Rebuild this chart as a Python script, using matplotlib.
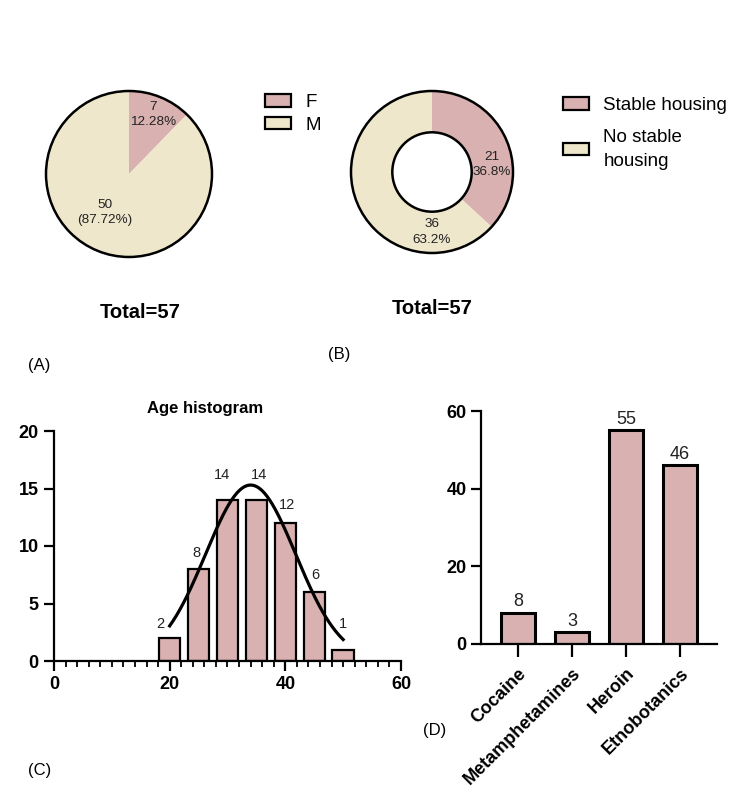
import numpy as np
import matplotlib.pyplot as plt
from matplotlib.patches import Patch, Circle
from matplotlib.ticker import MultipleLocator

plt.rcParams['font.family'] = ['Liberation Sans', 'DejaVu Sans']

pink = '#D9B1B1'
beige = '#EEE7CB'

# (A) sex
sex_labels = ['F', 'M']
sex_counts = [7, 50]
sex_text = ['7\n12.28%', '50\n(87.72%)']

# (B) housing
housing_labels = ['Stable housing', 'No stable\nhousing']
housing_counts = [21, 36]
housing_text = ['21\n36.8%', '36\n63.2%']

# (C) age histogram
age_bins = [20, 25, 30, 35, 40, 45, 50]
age_counts = [2, 8, 14, 14, 12, 6, 1]
# gaussian fit: amplitude, mean, sd
fit_amp, fit_mean, fit_sd = 15.3, 34.0, 7.8

# (D) substances
drugs = ['Cocaine', 'Metamphetamines', 'Heroin', 'Etnobotanics']
drug_counts = [8, 3, 55, 46]

W, H = 750, 800
fig = plt.figure(figsize=(7.5, 8), dpi=100)


def box(cx, cy, half):
    # axes rectangle from pixel centre / half size
    return [(cx - half) / W, (H - cy - half) / H, 2 * half / W, 2 * half / H]


# ---- (A) pie
axA = fig.add_axes(box(129, 174, 83 * 1.2))
axA.pie(sex_counts, colors=[pink, beige], startangle=90, counterclock=False,
        wedgeprops=dict(linewidth=0))
axA.add_patch(Circle((0, 0), 1, fill=False, ec='black', lw=1.8))
for (x, y), t in zip([(0.29, 0.72), (-0.29, -0.46)], sex_text):
    axA.text(x, y, t, ha='center', va='center', fontsize=9.7, color='#222222', linespacing=1.35)
axA.set_xlim(-1.2, 1.2)
axA.set_ylim(-1.2, 1.2)
axA.axis('off')
legA = fig.legend([Patch(fc=c, ec='black', lw=1.6) for c in [pink, beige]], sex_labels,
                  loc='upper left', bbox_to_anchor=(265 / W, 1 - 94 / H), frameon=False,
                  fontsize=13.5, borderpad=0, borderaxespad=0, handlelength=1.4,
                  handleheight=0.65, handletextpad=0.75, labelspacing=0.3)

# ---- (B) donut
axB = fig.add_axes(box(432, 172, 81 * 1.2))
axB.pie(housing_counts, colors=[pink, beige], startangle=90, counterclock=False,
        wedgeprops=dict(linewidth=0, width=0.51))
axB.add_patch(Circle((0, 0), 1, fill=False, ec='black', lw=1.8))
axB.add_patch(Circle((0, 0), 0.49, fill=False, ec='black', lw=1.8))
for (x, y), t in zip([(0.74, 0.09), (0.0, -0.74)], housing_text):
    axB.text(x, y, t, ha='center', va='center', fontsize=9.7, color='#222222', linespacing=1.35)
axB.set_xlim(-1.2, 1.2)
axB.set_ylim(-1.2, 1.2)
axB.axis('off')
legB = fig.legend([Patch(fc=c, ec='black', lw=1.6) for c in [pink, beige]], housing_labels,
                  loc='upper left', bbox_to_anchor=(563 / W, 1 - 97 / H), frameon=False,
                  fontsize=13.5, borderpad=0, borderaxespad=0, handlelength=1.4,
                  handleheight=0.65, handletextpad=0.75, labelspacing=0.8)
for t in legB.get_texts():
    t.set_linespacing(1.5)

fig.text(140 / W, 1 - 313 / H, 'Total=57', ha='center', va='center', fontsize=14.5, fontweight='bold')
fig.text(432 / W, 1 - 309 / H, 'Total=57', ha='center', va='center', fontsize=14.5, fontweight='bold')

# ---- (C) histogram
axC = fig.add_axes([54 / W, (H - 661) / H, (401 - 54) / W, 230 / H])
axC.bar(age_bins, age_counts, width=3.7, color=pink, edgecolor='black', linewidth=1.6, zorder=2)
xs = np.linspace(20, 50, 200)
axC.plot(xs, fit_amp * np.exp(-(xs - fit_mean) ** 2 / (2 * fit_sd ** 2)), color='black', lw=2.3, zorder=3)
label_offsets = [(-1.6, 1.2), (-0.3, 1.4), (-1.0, 2.2), (0.5, 2.2), (0.3, 1.6), (0.1, 1.5), (0.0, 2.2)]
for xb, v, (dx, dy) in zip(age_bins, age_counts, label_offsets):
    axC.text(xb + dx, v + dy, str(v), ha='center', va='center', fontsize=10.5, color='#222222')
axC.set_xlim(0, 60)
axC.set_ylim(0, 20)
axC.set_xticks([0, 20, 40, 60])
axC.set_yticks([0, 5, 10, 15, 20])
axC.xaxis.set_minor_locator(MultipleLocator(2))
axC.tick_params(axis='both', which='major', length=7, width=1.6, labelsize=13, pad=4)
axC.tick_params(axis='x', which='minor', length=4, width=1.3)
for lab in axC.get_xticklabels() + axC.get_yticklabels():
    lab.set_fontweight('bold')
for s in ['top', 'right']:
    axC.spines[s].set_visible(False)
for s in ['left', 'bottom']:
    axC.spines[s].set_linewidth(1.6)
axC.text(0.435, 1.1, 'Age histogram', transform=axC.transAxes, ha='center', va='center',
         fontsize=12, fontweight='bold')

# ---- (D) bars
axD = fig.add_axes([481 / W, (H - 644) / H, 236 / W, 233 / H])
pos = np.arange(len(drugs))
axD.bar(pos, drug_counts, width=0.63, color=pink, edgecolor='black', linewidth=2.2, zorder=2)
for p, v in zip(pos, drug_counts):
    axD.annotate(str(v), (p, v), xytext=(0, 2), textcoords='offset points',
                 ha='center', va='bottom', fontsize=13, color='#222222')
axD.set_xlim(-0.685, 3.69)
axD.set_ylim(0, 60)
axD.set_yticks([0, 20, 40, 60])
axD.set_xticks(pos)
axD.set_xticklabels(drugs, rotation=45, ha='right', rotation_mode='anchor')
axD.tick_params(axis='y', length=7, width=1.6, labelsize=13)
axD.tick_params(axis='x', length=9, width=1.6, labelsize=13, pad=6)
for lab in axD.get_xticklabels() + axD.get_yticklabels():
    lab.set_fontweight('bold')
for s in ['top', 'right']:
    axD.spines[s].set_visible(False)
for s in ['left', 'bottom']:
    axD.spines[s].set_linewidth(1.6)

# panel letters
for x, y, t in [(28, 365, '(A)'), (328, 355, '(B)'), (28, 770, '(C)'), (423, 730, '(D)')]:
    fig.text(x / W, 1 - y / H, t, ha='left', va='center', fontsize=12)

fig.savefig('out.png', dpi=100, facecolor='white')
